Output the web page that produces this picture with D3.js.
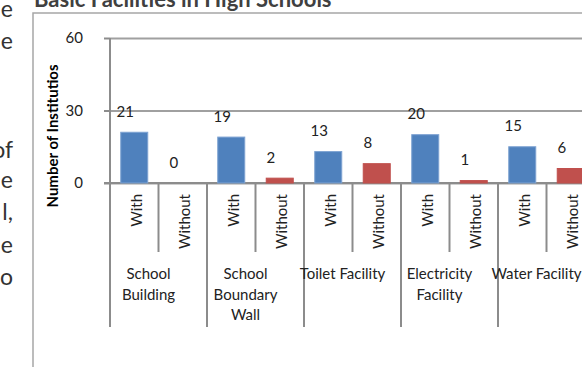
<!DOCTYPE html>
<html><head><meta charset="utf-8">
<script src="https://cdn.jsdelivr.net/npm/d3@7"></script>
<style>
html,body{margin:0;padding:0;background:#fff;}
svg{display:block;}
</style></head>
<body>
<script>
// ---- data ----
const title = "Basic Facilities in High Schools";
const yTitle = "Number of Institutios";
const categories = ["School Building", "School Boundary Wall", "Toilet Facility", "Electricity Facility", "Water Facility"];
const categoryLines = [["School", "Building"], ["School", "Boundary", "Wall"], ["Toilet Facility"], ["Electricity", "Facility"], ["Water Facility"]];
const statuses = ["With", "Without"];
const withValues = [21, 19, 13, 20, 15];
const withoutValues = [0, 2, 8, 1, 6];
const yTicks = [0, 30, 60];
const sideText = ["e", "e", "of", "e", "l,", "e", "o"];
const sideBaselines = [17, 49, 158, 188, 220, 253, 285];

const colors = {With: "#4F81BD", Without: "#C0504D"};
const strokes = {With: "#7EA3D2", Without: "#C0504D"};

const W = 582, H = 367;
const svg = d3.select("body").append("svg").attr("width", W).attr("height", H);
const font = "Lato, 'Open Sans', sans-serif";

// side paragraph fragments
svg.append("g").selectAll("text").data(sideText).join("text")
  .attr("x", 13).attr("y", (d, i) => sideBaselines[i])
  .attr("text-anchor", "end")
  .style("font-family", font).style("font-size", "23px").style("fill", "#333")
  .text(d => d);

// chart frame
svg.append("path").attr("d", `M33,${H} V13 H${W}`)
  .attr("fill", "none").attr("stroke", "#A6A6A6").attr("stroke-width", 1.5);

// title
svg.append("text").attr("x", 34).attr("y", 7)
  .style("font-family", font).style("font-weight", "bold").style("font-size", "22px").style("fill", "#404040")
  .text(title);

// data table
const rows = [];
categories.forEach((c, i) => {
  rows.push({cat: i, status: statuses[0], value: withValues[i], key: i + "-With"});
  rows.push({cat: i, status: statuses[1], value: withoutValues[i], key: i + "-Without"});
});

const x0 = 110, x1 = 595, yBase = 183, yTop = 38;
const x = d3.scaleBand().domain(rows.map(r => r.key)).range([x0, x1]).paddingInner(0).paddingOuter(0);
const y = d3.scaleLinear().domain([0, 60]).range([yBase, yTop]);
const bw = x.bandwidth();
const barW = bw * 0.557;

// gridlines
const grid = svg.append("g").attr("transform", `translate(${x0},0)`)
  .call(d3.axisLeft(y).tickValues(yTicks).tickSize(-(W - x0)).tickFormat(""));
grid.select(".domain").remove();
grid.selectAll("line").attr("stroke", "#A0A0A0").attr("stroke-width", 2);

// y axis
const ya = svg.append("g").attr("transform", `translate(${x0},0)`)
  .call(d3.axisLeft(y).tickValues(yTicks).tickSize(6).tickSizeOuter(0).tickPadding(21));
ya.select(".domain").remove();
ya.selectAll("line").attr("stroke", "#8C8C8C").attr("stroke-width", 2);
ya.selectAll("text").style("font-family", font).style("font-size", "15px").style("fill", "#222");

// y axis line (extends through category area)
svg.append("line").attr("x1", x0).attr("x2", x0).attr("y1", yTop).attr("y2", 327)
  .attr("stroke", "#8C8C8C").attr("stroke-width", 2);

// x axis baseline
svg.append("line").attr("x1", x0 - 6).attr("x2", W).attr("y1", yBase).attr("y2", yBase)
  .attr("stroke", "#8C8C8C").attr("stroke-width", 2);

// category dividers
rows.forEach(r => {
  if (r.cat === 0 && r.status === "With") return;
  const xx = x(r.key);
  svg.append("line").attr("x1", xx).attr("x2", xx).attr("y1", yBase)
    .attr("y2", r.status === "With" ? 327 : 252)
    .attr("stroke", "#8C8C8C").attr("stroke-width", 2);
});

// bars
svg.append("g").selectAll("rect").data(rows).join("rect")
  .attr("x", d => x(d.key) + (bw - barW) / 2)
  .attr("width", barW)
  .attr("y", d => y(d.value))
  .attr("height", d => yBase - y(d.value))
  .attr("fill", d => colors[d.status])
  .attr("stroke", d => d.value > 0 ? strokes[d.status] : "none")
  .attr("stroke-width", 1);

// value labels
svg.append("g").selectAll("text").data(rows).join("text")
  .attr("x", d => x(d.key) + bw / 2 - 9)
  .attr("y", d => y(d.value) - 15.5)
  .attr("text-anchor", "middle")
  .style("font-family", font).style("font-size", "15px").style("fill", "#222")
  .text(d => d.value);

// rotated sub-category labels
svg.append("g").selectAll("text").data(rows).join("text")
  .attr("transform", d => `translate(${x(d.key) + bw / 2 + 7.5},194) rotate(-90)`)
  .attr("text-anchor", "end")
  .style("font-family", font).style("font-size", "15px").style("fill", "#222")
  .text(d => d.status);

// category labels
const catG = svg.append("g");
categoryLines.forEach((lines, i) => {
  const cx = x(i + "-Without");
  const t = catG.append("text").attr("text-anchor", "middle")
    .style("font-family", font).style("font-size", "15px").style("fill", "#222");
  lines.forEach((ln, j) => {
    t.append("tspan").attr("x", cx - 10).attr("y", 279 + j * 20.5).text(ln);
  });
});

// y axis title
svg.append("text").attr("transform", `translate(58,136) rotate(-90)`)
  .attr("text-anchor", "middle")
  .style("font-family", font).style("font-weight", "bold").style("font-size", "15px").style("fill", "#000")
  .text(yTitle);
</script>
</body></html>
